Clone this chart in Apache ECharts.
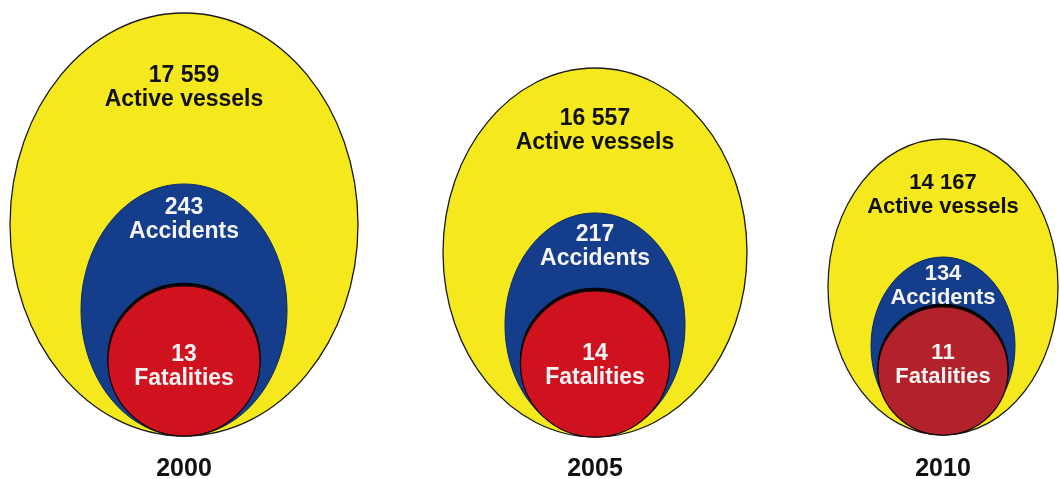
<!DOCTYPE html>
<html>
<head>
<meta charset="utf-8">
<script src="https://cdn.jsdelivr.net/npm/echarts@6/dist/echarts.min.js"></script>
<style>
  html, body { margin: 0; padding: 0; background: #fff; }
  #main { width: 1060px; height: 479px; }
</style>
</head>
<body>
<div id="main"></div>
<script>
// data
var years = ['2000', '2005', '2010'];
var activeVessels = [17559, 16557, 14167];
var accidents = [243, 217, 134];
var fatalities = [13, 14, 11];

// drawing layout, in axis units (the hidden axes span the whole canvas)
var centerX = [184, 595, 943];
var baseY = [436, 437, 435];
var outerSize = [[348, 423], [304, 369], [230, 296]];
var middleSize = [[206, 252], [180, 224], [144, 178]];
var innerSize = [[152, 150], [149, 146], [130, 128]];
var outerLabelY = [88, 131, 195];
var middleLabelY = [220, 247, 286];
var innerLabelY = [367, 366, 365];
var yearLabelY = 469;
var fontSize = [23, 23, 22];
var redColor = ['#d0121f', '#d0121f', '#b3222a'];

function fmt(n) {
  return String(n).replace(/\B(?=(\d{3})+(?!\d))/g, ' ');
}

function ellipse(api, size, lift, fill, stroke, lw) {
  var c = api.coord([api.value(0), api.value(1) - size[1] / 2 - lift]);
  var s = api.size([size[0], size[1]]);
  return {
    type: 'ellipse',
    shape: { cx: c[0], cy: c[1], rx: s[0] / 2, ry: s[1] / 2 },
    style: { fill: fill, stroke: stroke, lineWidth: lw }
  };
}

function label(api, y, text, color, size) {
  var p = api.coord([api.value(0), y]);
  return {
    type: 'text',
    x: p[0],
    y: p[1],
    style: {
      text: text,
      fill: color,
      font: 'bold ' + size + 'px "Liberation Sans", Arial, sans-serif',
      align: 'center',
      verticalAlign: 'middle'
    }
  };
}

function renderItem(params, api) {
  var i = params.dataIndex;
  var fs = fontSize[i];
  var half = 12;
  return {
    type: 'group',
    children: [
      ellipse(api, outerSize[i], 0, '#f5e91d', '#1a1a1a', 1.3),
      ellipse(api, middleSize[i], 0, '#143d8c', '#0c2a66', 1),
      // dark rim on top of the red circle
      ellipse(api, innerSize[i], 2.5, '#050505', '#050505', 1.5),
      ellipse(api, innerSize[i], 0, redColor[i], '#1a0505', 1.2),
      label(api, outerLabelY[i] - half, fmt(activeVessels[i]), '#111', fs),
      label(api, outerLabelY[i] + half, 'Active vessels', '#111', fs),
      label(api, middleLabelY[i] - half, fmt(accidents[i]), '#f4f4f4', fs),
      label(api, middleLabelY[i] + half, 'Accidents', '#f4f4f4', fs),
      label(api, innerLabelY[i] - half, fmt(fatalities[i]), '#f4f4f4', fs),
      label(api, innerLabelY[i] + half, 'Fatalities', '#f4f4f4', fs),
      label(api, yearLabelY, years[i], '#111', 25)
    ]
  };
}

var myChart = echarts.init(document.getElementById('main'));
myChart.setOption({
  backgroundColor: '#fff',
  animation: false,
  grid: { left: 0, right: 0, top: 0, bottom: 0 },
  xAxis: { type: 'value', min: 0, max: 1060, show: false },
  yAxis: { type: 'value', min: 0, max: 479, inverse: true, show: false },
  series: [{
    type: 'custom',
    renderItem: renderItem,
    clip: false,
    data: years.map(function (y, i) { return [centerX[i], baseY[i]]; })
  }]
});
</script>
</body>
</html>
